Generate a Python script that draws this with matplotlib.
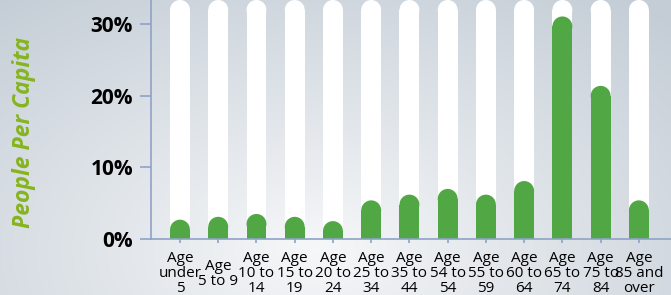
import matplotlib.pyplot as plt
import numpy as np
from matplotlib.patches import Ellipse

# data
labels = ["Age\nunder\n5", "Age\n5 to 9", "Age\n10 to\n14", "Age\n15 to\n19",
          "Age\n20 to\n24", "Age\n25 to\n34", "Age\n35 to\n44", "Age\n54 to\n54",
          "Age\n55 to\n59", "Age\n60 to\n64", "Age\n65 to\n74", "Age\n75 to\n84",
          "Age\n85 and\nover"]
values = [2.7, 3.1, 3.5, 3.1, 2.5, 5.4, 6.2, 7.0, 6.2, 8.1, 31.1, 21.4, 5.4]
yticks = [0, 10, 20, 30]

GREEN = "#52a745"
AXIS = "#8fa3c6"

W, H = 671, 295
fig = plt.figure(figsize=(W / 100, H / 100), dpi=100)

# background gradient
bg = fig.add_axes([0, 0, 1, 1], zorder=-10)
gx, gy = np.meshgrid(np.linspace(0, 1, 300), np.linspace(0, 1, 140))
d = np.sqrt(((gx - 0.47) / 0.75) ** 2 + ((gy - 0.15) / 1.1) ** 2)
d = np.clip(d, 0, 1)
light = np.array([0.965, 0.97, 0.975])
dark = np.array([0.77, 0.805, 0.84])
img = light[None, None, :] * (1 - d[..., None]) + dark[None, None, :] * d[..., None]
bg.imshow(img, origin="lower", aspect="auto", extent=[0, 1, 0, 1])
bg.axis("off")

left, bottom, top = 151, 239, 0
ax = fig.add_axes([left / W, (H - bottom) / H, (W - left) / W, (bottom - top) / H])
ax.patch.set_alpha(0)

n = len(values)
x = np.arange(n)
ax.set_xlim(-0.758, 12.84)
ymax = 33.4
ax.set_ylim(0, ymax)

bw = 0.52
# height of a circular cap in data units
px_x = (ax.get_xlim()[1] - ax.get_xlim()[0]) / (W - left)
px_y = ymax / (bottom - top)
cap_h = (bw / 2) / px_x * px_y


def rounded_bars(vals, color, z):
    for xi, v in zip(x, vals):
        body = max(v - cap_h, 0)
        ax.bar(xi, body, width=bw, color=color, zorder=z, linewidth=0)
        ax.add_patch(Ellipse((xi, body), bw, 2 * cap_h, color=color, zorder=z, linewidth=0))


rounded_bars([ymax] * n, "white", 1)
rounded_bars(values, GREEN, 2)

for s in ["top", "right"]:
    ax.spines[s].set_visible(False)
for s in ["left", "bottom"]:
    ax.spines[s].set_color(AXIS)
    ax.spines[s].set_linewidth(1.2)
    ax.spines[s].set_zorder(3)

ax.set_yticks(yticks)
ax.set_yticklabels([f"{t}%" for t in yticks], fontname="Open Sans",
                   fontweight="bold", fontsize=15)
ax.tick_params(axis="y", length=8, width=1.2, color=AXIS, pad=5)

ax.set_xticks(x)
ax.set_xticklabels(labels, fontname="Open Sans", fontsize=11,
                   linespacing=1.0, va="center")
ax.tick_params(axis="x", length=3, width=1.2, color=AXIS, pad=22)

fig.text(24 / W, 1 - 132 / H, "People Per Capita", rotation=90, ha="center",
         va="center", color="#86b41e", fontsize=16.5, fontweight="bold",
         fontstyle="italic", fontname="Open Sans")

fig.savefig("out.png", dpi=100)
